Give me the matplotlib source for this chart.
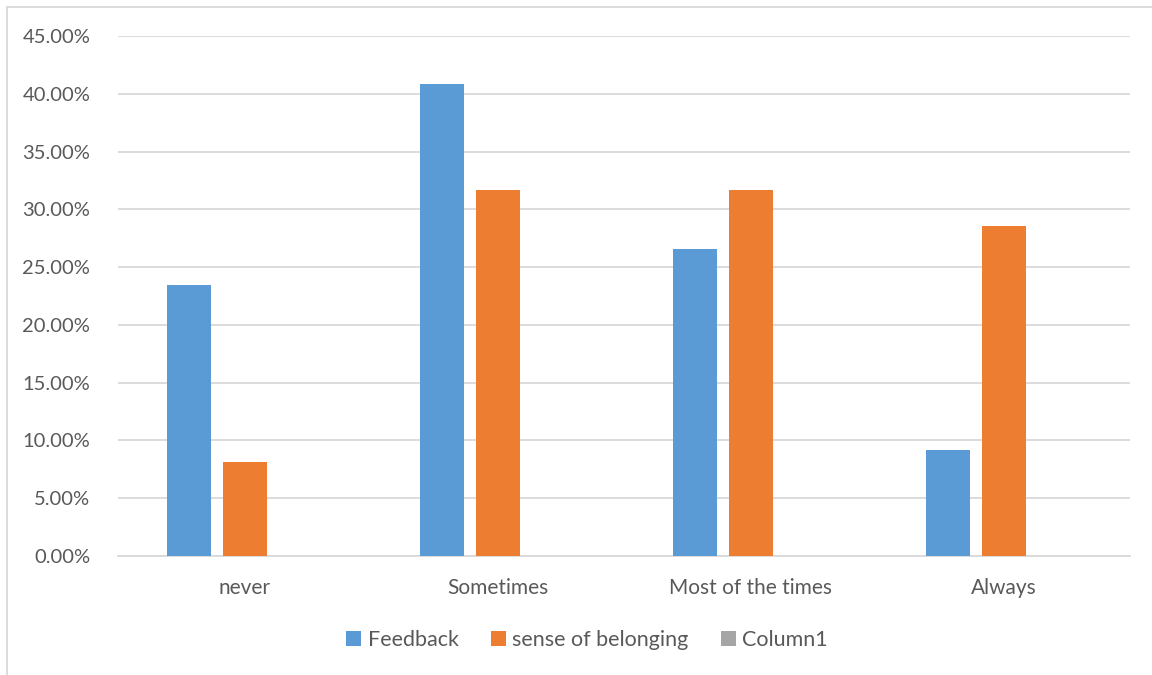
import numpy as np
import matplotlib.pyplot as plt
from matplotlib.patches import Rectangle
from matplotlib.ticker import PercentFormatter

categories = ['never', 'Sometimes', 'Most of the times', 'Always']
feedback = [23.47, 40.82, 26.53, 9.18]
belonging = [8.16, 31.63, 31.63, 28.57]
column1 = [0, 0, 0, 0]

series = [('Feedback', feedback, '#5B9BD5'),
          ('sense of belonging', belonging, '#ED7D31'),
          ('Column1', column1, '#A5A5A5')]

plt.rcParams['font.family'] = ['Lato', 'DejaVu Sans']

fig = plt.figure(figsize=(11.52, 6.75), dpi=100)
ax = fig.add_axes([118 / 1152, 1 - 556 / 675, (1130 - 118) / 1152, 520 / 675])

x = np.arange(len(categories))
width = 44 / 253
step = 56 / 253
for i, (name, vals, color) in enumerate(series):
    ax.bar(x + (i - 1) * step, vals, width, color=color, label=name, zorder=3)

ax.set_xlim(-0.5, len(categories) - 0.5)
ax.set_ylim(0, 45)
ax.set_yticks(np.arange(0, 46, 5))
ax.yaxis.set_major_formatter(PercentFormatter(decimals=2))
ax.set_xticks(x)
ax.set_xticklabels(categories)
ax.grid(axis='y', color='#D9D9D9', linewidth=1.3, zorder=0)
for s in ['top', 'right', 'left']:
    ax.spines[s].set_visible(False)
ax.spines['bottom'].set_color('#D9D9D9')
ax.spines['bottom'].set_linewidth(1.3)
ax.tick_params(axis='both', length=0, labelsize=14.5, colors='#595959')
ax.tick_params(axis='x', labelsize=15, pad=16)
ax.tick_params(axis='y', pad=20)

handles, labels = ax.get_legend_handles_labels()
fig.legend(handles, labels, loc='center', bbox_to_anchor=(587 / 1152, 1 - 640 / 675),
           ncol=3, frameon=False, fontsize=15.5, labelcolor='#595959',
           handlelength=0.7, handleheight=0.7, handletextpad=0.3, columnspacing=1.5)

# chart border (left and top edges)
fig.add_artist(Rectangle((7 / 1152, -0.01), 1.2, 1 - 7 / 675 + 0.01, transform=fig.transFigure,
                         fill=False, edgecolor='#D9D9D9', linewidth=1.3))

fig.savefig('out.png', dpi=100)
